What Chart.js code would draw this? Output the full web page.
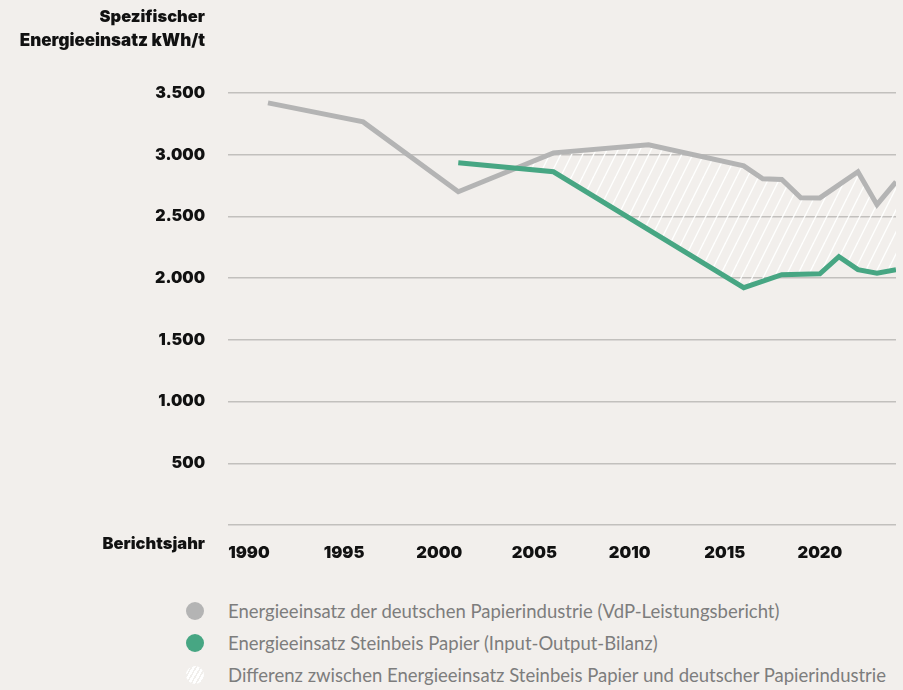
<!DOCTYPE html>
<html lang="de">
<head>
<meta charset="utf-8">
<script src="https://cdn.jsdelivr.net/npm/chart.js@4/dist/chart.umd.min.js"></script>
<style>
    body { margin: 0; background: #f2efec; width: 903px; height: 690px; overflow: hidden; font-family: Lato, "Noto Sans", sans-serif; }
    #wrap { position: absolute; left: 0; top: 0; width: 903px; height: 565px; }
    .leg { position: absolute; left: 186px; height: 18px; line-height: 18px; font-size: 18.5px; color: #7d7d7d; white-space: nowrap; }
    .leg i { position: absolute; left: 0; top: 0; width: 18px; height: 18px; border-radius: 50%; }
    .leg span { position: absolute; left: 42px; top: 0; }
</style>
</head>
<body>
<div id="wrap"><canvas id="chart" width="903" height="565"></canvas></div>
<div id="legend"></div>

<script>
// Daten
const yearTicks = [1990, 1995, 2000, 2005, 2010, 2015, 2020];

const vdpYears = [1991, 1996, 2001, 2006, 2011, 2016, 2017, 2018, 2019, 2020, 2022, 2023, 2024];
const vdpValues = [3420, 3266, 2700, 3015, 3080, 2910, 2805, 2800, 2651, 2650, 2862, 2595, 2780];

const steinbeisYears = [2001, 2006, 2016, 2018, 2020, 2021, 2022, 2023, 2024];
const steinbeisValues = [2934, 2862, 1923, 2028, 2035, 2174, 2069, 2040, 2069];

const legendLabels = [
    'Energieeinsatz der deutschen Papierindustrie (VdP-Leistungsbericht)',
    'Energieeinsatz Steinbeis Papier (Input-Output-Bilanz)',
    'Differenz zwischen Energieeinsatz Steinbeis Papier und deutscher Papierindustrie'
];

const GRAY = '#b4b4b4';
const GREEN = '#47a683';
const FONT = 'Inter, Lato, sans-serif';

// Schraffur
function makeHatch() {
    const w = 11, h = 22;
    const c = document.createElement('canvas');
    c.width = w; c.height = h;
    const g = c.getContext('2d');
    g.strokeStyle = 'rgba(255,255,255,0.95)';
    g.lineWidth = 1.4;
    [-w, 0, w].forEach(o => {
        g.beginPath();
        g.moveTo(o, h);
        g.lineTo(o + w, 0);
        g.stroke();
    });
    return g.createPattern(c, 'repeat');
}
const hatch = makeHatch();

const toXY = (xs, ys) => xs.map((x, i) => ({ x, y: ys[i] }));

// Texte am Rand
const sideTexts = {
    id: 'sideTexts',
    afterDraw(chart) {
        const ctx = chart.ctx;
        ctx.save();
        ctx.fillStyle = '#111';
        ctx.font = '900 16.5px ' + FONT;
        ctx.textAlign = 'right';
        ctx.textBaseline = 'middle';
        ctx.fillText('Spezifischer', 205, 17);
        ctx.font = '900 17px ' + FONT;
        ctx.fillText('Energieeinsatz kWh/t', 205, 41);
        ctx.font = '900 16.5px ' + FONT;
        ctx.fillText('Berichtsjahr', 205, 544);
        ctx.restore();
    }
};

new Chart(document.getElementById('chart'), {
    type: 'line',
    data: {
        datasets: [
            {
                label: legendLabels[0],
                data: toXY(vdpYears, vdpValues),
                borderColor: GRAY,
                borderWidth: 5,
                pointRadius: 0,
                tension: 0,
                order: 1,
                fill: { target: 1, above: hatch, below: 'rgba(0,0,0,0)' }
            },
            {
                label: legendLabels[1],
                data: toXY(steinbeisYears, steinbeisValues),
                borderColor: GREEN,
                borderWidth: 5,
                pointRadius: 0,
                tension: 0,
                order: 0,
                fill: false
            }
        ]
    },
    options: {
        responsive: false,
        animation: false,
        layout: { padding: { top: 93, right: 7, left: 0, bottom: 0 } },
        plugins: { legend: { display: false }, tooltip: { enabled: false } },
        scales: {
            x: {
                type: 'linear',
                min: 1988.9,
                max: 2024,
                grid: { display: false },
                border: { display: false },
                afterBuildTicks: s => { s.ticks = yearTicks.map(v => ({ value: v })); },
                afterFit: s => { s.height = 40; },
                ticks: {
                    padding: 10,
                    color: '#111',
                    font: { family: FONT, size: 16.5, weight: 900 },
                    callback: v => String(v),
                    maxRotation: 0
                }
            },
            y: {
                min: 0,
                max: 3500,
                grid: { color: '#c2c0bd', lineWidth: 1.5, drawTicks: false },
                border: { display: false },
                afterFit: s => { s.width = 228; },
                ticks: {
                    stepSize: 500,
                    padding: 23,
                    color: '#111',
                    font: { family: FONT, size: 16, weight: 900 },
                    callback: v => v === 0 ? '' : v.toLocaleString('de-DE')
                }
            }
        }
    },
    plugins: [sideTexts]
});

// Legende
const legendMarks = [
    'background:' + GRAY,
    'background:' + GREEN,
    'background: repeating-linear-gradient(-60deg, #ffffff 0 2.5px, #f1efec 2.5px 4px)'
];
const legendTops = [602, 634, 666];
const legend = document.getElementById('legend');
legendLabels.forEach((txt, i) => {
    const d = document.createElement('div');
    d.className = 'leg';
    d.style.top = legendTops[i] + 'px';
    d.innerHTML = `<i style="${legendMarks[i]}"></i><span>${txt}</span>`;
    legend.appendChild(d);
});
</script>
</body>
</html>
